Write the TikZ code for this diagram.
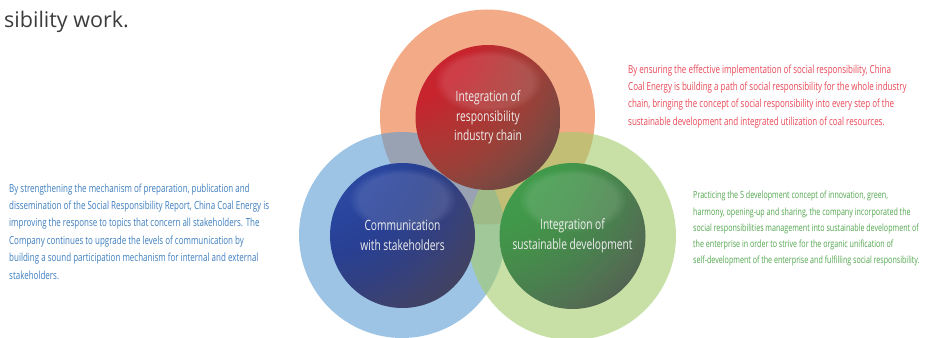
\documentclass[tikz,border=0pt]{standalone}
\usepackage{fontspec}
\usetikzlibrary{fadings}
\setmainfont{Open Sans}
\newfontfamily\condfont{Open Sans}[FakeStretch=0.72]
\definecolor{ringorange}{RGB}{235,113,55}
\definecolor{ringblue}{RGB}{92,157,210}
\definecolor{ringgreen}{RGB}{163,203,105}
\definecolor{txtblue}{RGB}{60,125,190}
\definecolor{txtred}{RGB}{232,70,85}
\definecolor{txtgreen}{RGB}{80,165,75}
\definecolor{headgray}{RGB}{60,60,60}
\pgfdeclareradialshading{redball}{\pgfpoint{-40bp}{40bp}}{%
  rgb(0bp)=(0.80,0.16,0.20); rgb(30bp)=(0.78,0.14,0.18); rgb(40bp)=(0.70,0.20,0.20);
  rgb(50bp)=(0.61,0.25,0.22); rgb(58bp)=(0.50,0.28,0.25); rgb(66bp)=(0.38,0.28,0.26);
  rgb(74bp)=(0.27,0.23,0.23); rgb(82bp)=(0.19,0.18,0.18); rgb(200bp)=(0.17,0.17,0.17)}
\pgfdeclareradialshading{blueball}{\pgfpoint{-40bp}{40bp}}{%
  rgb(0bp)=(0.22,0.33,0.67); rgb(30bp)=(0.16,0.27,0.62); rgb(40bp)=(0.16,0.25,0.57);
  rgb(50bp)=(0.20,0.25,0.50); rgb(58bp)=(0.24,0.26,0.43); rgb(66bp)=(0.26,0.26,0.36);
  rgb(74bp)=(0.22,0.22,0.27); rgb(82bp)=(0.18,0.18,0.20); rgb(200bp)=(0.17,0.17,0.19)}
\pgfdeclareradialshading{greenball}{\pgfpoint{-40bp}{40bp}}{%
  rgb(0bp)=(0.31,0.65,0.35); rgb(30bp)=(0.25,0.60,0.29); rgb(40bp)=(0.27,0.56,0.29);
  rgb(50bp)=(0.29,0.50,0.31); rgb(58bp)=(0.32,0.44,0.32); rgb(66bp)=(0.32,0.37,0.32);
  rgb(74bp)=(0.25,0.27,0.25); rgb(82bp)=(0.19,0.20,0.19); rgb(200bp)=(0.18,0.18,0.18)}
\tikzset{
  ring/.style={fill opacity=0.6},
  sphere/.style={circle, minimum size=#1, inner sep=0pt, text=white!94!black, align=center,
    font=\condfont\fontsize{14.2}{19.5}\selectfont},
  shine/.style={white, fill opacity=0.12, path fading=circle with fuzzy edge 20 percent},
  para/.style={anchor=north west, inner sep=0pt, align=left,
    font=\condfont\fontsize{11.1}{17.4}\selectfont},
}
\begin{document}
\begin{tikzpicture}[x=1pt,y=-1pt]
\useasboundingbox (0,0) rectangle (925,337);
% outer rings
\fill[ring, ringorange] (487.5,117) circle[radius=107.5];
\fill[ring, ringblue] (402,235) circle[radius=103];
\fill[ring, ringgreen] (572,236) circle[radius=104];
% spheres
\node[sphere=145pt, shading=redball] (chain) at (488,117.5) {};
\node[sphere=145pt, shading=blueball] (comm) at (402.5,235.5) {};
\node[sphere=146pt, shading=greenball] (sust) at (572.5,236) {};
% highlights
\fill[shine] ([yshift=36pt]chain.center) ellipse[x radius=54, y radius=32];
\fill[shine] ([yshift=36pt]comm.center) ellipse[x radius=54, y radius=32];
\fill[shine] ([yshift=36pt]sust.center) ellipse[x radius=54, y radius=32];
% sphere labels
\node[sphere=10pt] at (chain) {Integration of\\responsibility\\industry chain};
\node[sphere=10pt] at (comm) {Communication\\with stakeholders};
\node[sphere=10pt] at (sust) {Integration of\\sustainable development};
% heading fragment
\node[anchor=base west, inner sep=0pt, text=headgray, font=\fontsize{21.5}{26}\selectfont] (head) at (4,28) {sibility work.};
% paragraphs
\node[para, text=txtblue] (pcomm) at (9,183.5)
  {By strengthening the mechanism of preparation, publication and\\
   dissemination of the Social Responsibility Report, China Coal Energy is\\
   improving the response to topics that concern all stakeholders. The\\
   Company continues to upgrade the levels of communication by\\
   building a sound participation mechanism for internal and external\\
   stakeholders.};
\node[para, text=txtred] (pchain) at (628,64.5)
  {By ensuring the effective implementation of social responsibility, China\\
   Coal Energy is building a path of social responsibility for the whole industry\\
   chain, bringing the concept of social responsibility into every step of the\\
   sustainable development and integrated utilization of coal resources.};
\node[para, text=txtgreen, font=\condfont\fontsize{9.9}{16.3}\selectfont] (psust) at (693,191)
  {Practicing the 5 development concept of innovation, green,\\
   harmony, opening-up and sharing, the company incorporated the\\
   social responsibilities management into sustainable development of\\
   the enterprise in order to strive for the organic unification of\\
   self-development of the enterprise and fulfilling social responsibility.};
\end{tikzpicture}
\end{document}
